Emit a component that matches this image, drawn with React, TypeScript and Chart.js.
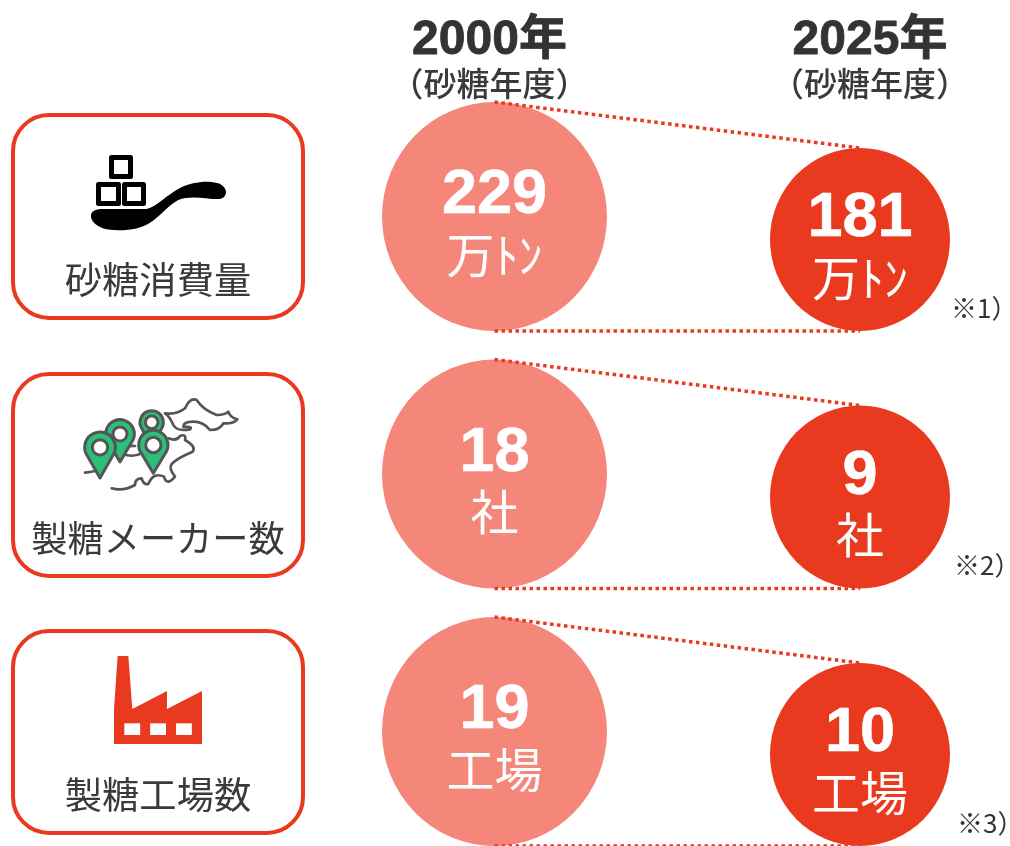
import React, { useEffect, useRef } from "react";
import { Chart, registerables } from "chart.js";

Chart.register(...registerables);

const years = [2000, 2025];
const yearLabels = ["2000年", "2025年"];
const yearSub = "（砂糖年度）";
const metrics = ["砂糖消費量", "製糖メーカー数", "製糖工場数"];
const values2000 = [229, 18, 19];
const values2025 = [181, 9, 10];
const units = ["万ﾄﾝ", "社", "工場"];
const notes = ["※1）", "※2）", "※3）"];

const RED = "#E93A20";
const PINK = "#F4877A";
const INK = "#333333";
const LATIN = '"Liberation Sans", "Noto Sans CJK JP", sans-serif';
const CJK = '"Noto Sans CJK JP", sans-serif';

const W = 1010;
const H = 846;
const R_OLD = 114.5;
const R_NEW = 91.5;
const RX_OLD = 112.5;
const RX_NEW = 90;
const ROW_PX = 257.5;
const ROW0_PX = 216.5;
const X2000_PX = 494.5;
const PX_PER_YEAR = (860 - 494.5) / 25;
// Chart.js insets the chart area by the largest bubble radius.
const INSET = R_OLD;
const HEADER_SHIFT = [-5, 10];

const rowOff = (px: number) => px / ROW_PX;
const rows = metrics.map((_, i) => i);
const newCenter = (i: number) => i + rowOff(R_OLD - R_NEW);

const BOXES = [
  { top: 115, bottom: 318 },
  { top: 374, bottom: 576 },
  { top: 631, bottom: 833 },
];

const SPOON =
  "M273 345 C275 332 290 327 310 327 L440 327 C470 320 500 285 540 264 C575 246 625 240 655 250 C685 262 685 292 660 297 C630 300 575 283 535 300 C505 315 480 350 450 368 C420 388 370 395 320 388 C295 382 270 365 273 345 Z";
const FACTORY =
  "M353 108 L385 108 L397 267 L501 213 L501 267 L606 213 L606 372 L342 372 L342 267 Z";
const FACTORY_WINDOWS = [373, 450.5, 528];
const MAP_LINES = [
  "M495 160 Q530 165 555 145 Q570 112 590 120 Q610 150 650 165 Q675 165 685 155 Q690 172 712 178 Q700 192 670 190 Q660 210 630 210 Q610 185 580 185 Q550 185 550 200 Q580 200 570 208 Q530 215 520 195 Q510 170 495 160",
  "M505 235 Q530 245 540 228 Q560 220 555 240 Q590 260 578 275 Q530 295 515 312 Q505 325 525 350 Q500 380 492 350 Q460 335 445 372 Q430 375 425 355 Q405 355 405 375 Q370 395 335 385",
  "M378 285 Q405 292 428 278",
  "M375 268 Q385 255 405 258",
  "M255 338 Q270 336 285 333",
];
const PINS = [
  { x: 455, y: 187, r: 35, hole: 19, tip: 260 },
  { x: 360, y: 222, r: 43, hole: 21, tip: 306 },
  { x: 300, y: 262, r: 46, hole: 23, tip: 354 },
  { x: 460, y: 255, r: 44, hole: 23, tip: 340 },
];

function text(
  ctx: CanvasRenderingContext2D,
  s: string,
  x: number,
  y: number,
  font: string,
  color: string,
  align: CanvasTextAlign = "center",
  heavy = 0
) {
  ctx.font = font;
  ctx.fillStyle = color;
  ctx.textAlign = align;
  ctx.textBaseline = "alphabetic";
  if (heavy > 0) {
    ctx.strokeStyle = color;
    ctx.lineWidth = heavy;
    ctx.lineJoin = "round";
    ctx.strokeText(s, x, y);
  }
  ctx.fillText(s, x, y);
}

function drawSpoon(ctx: CanvasRenderingContext2D) {
  ctx.save();
  ctx.translate(0, 100);
  ctx.scale(1 / 3, 1 / 3);
  ctx.fillStyle = "#000";
  ctx.fill(new Path2D(SPOON));
  ctx.strokeStyle = "#000";
  ctx.lineJoin = "round";
  ctx.lineWidth = 15;
  ctx.strokeRect(334.5, 172.5, 57, 57);
  ctx.strokeRect(295.5, 253.5, 60, 57);
  ctx.strokeRect(373.5, 253.5, 57, 57);
  ctx.restore();
}

function drawMap(ctx: CanvasRenderingContext2D) {
  ctx.save();
  ctx.translate(0, 360);
  ctx.scale(1 / 3, 1 / 3);
  ctx.strokeStyle = "#555555";
  ctx.lineWidth = 8;
  ctx.lineJoin = "round";
  ctx.lineCap = "round";
  MAP_LINES.forEach((d) => ctx.stroke(new Path2D(d)));
  PINS.forEach((p) => {
    ctx.beginPath();
    ctx.arc(p.x, p.y, p.r, Math.PI / 2 + 1.15, Math.PI / 2 - 1.15);
    ctx.lineTo(p.x, p.tip);
    ctx.closePath();
    ctx.fillStyle = "#2BBF7A";
    ctx.fill();
    ctx.lineWidth = 9;
    ctx.strokeStyle = "#555555";
    ctx.stroke();
    ctx.beginPath();
    ctx.arc(p.x, p.y, p.hole, 0, Math.PI * 2);
    ctx.fillStyle = "#fff";
    ctx.fill();
    ctx.stroke();
  });
  ctx.restore();
}

function drawFactory(ctx: CanvasRenderingContext2D) {
  ctx.save();
  ctx.translate(0, 620);
  ctx.scale(1 / 3, 1 / 3);
  ctx.fillStyle = RED;
  ctx.fill(new Path2D(FACTORY));
  ctx.fillStyle = "#fff";
  FACTORY_WINDOWS.forEach((x) => ctx.fillRect(x, 310, 47.5, 35));
  ctx.restore();
}

const overlay = {
  id: "overlay",
  beforeDatasetsDraw(chart: any) {
    const ctx: CanvasRenderingContext2D = chart.ctx;
    ctx.save();
    BOXES.forEach((b) => {
      ctx.beginPath();
      ctx.roundRect(13, b.top, 290, b.bottom - b.top, 36);
      ctx.lineWidth = 4;
      ctx.strokeStyle = RED;
      ctx.stroke();
    });
    ctx.restore();
  },
  // The reference circles are very slightly squashed: narrow each column about its year.
  beforeDatasetDraw(chart: any, args: any) {
    if (args.index > 1) return;
    const ctx: CanvasRenderingContext2D = chart.ctx;
    const cx = chart.scales.x.getPixelForValue(years[args.index]);
    const k = args.index === 0 ? RX_OLD / R_OLD : RX_NEW / R_NEW;
    ctx.save();
    ctx.translate(cx, 0);
    ctx.scale(k, 1);
    ctx.translate(-cx, 0);
  },
  afterDatasetDraw(chart: any, args: any) {
    if (args.index > 1) return;
    chart.ctx.restore();
  },
  afterDatasetsDraw(chart: any) {
    const ctx: CanvasRenderingContext2D = chart.ctx;
    const sx = chart.scales.x;
    const sy = chart.scales.y;
    ctx.save();
    drawSpoon(ctx);
    drawMap(ctx);
    drawFactory(ctx);

    const labelBase = [294, 552, 809];
    const labelSize = [37.3, 36.2, 37.3];
    metrics.forEach((m, i) =>
      text(ctx, m, 158, labelBase[i], `${labelSize[i]}px ${CJK}`, "#3a3a3a")
    );

    years.forEach((y, i) => {
      const x = sx.getPixelForValue(y) + HEADER_SHIFT[i];
      text(ctx, yearLabels[i], x, 54, `bold 48px ${LATIN}`, INK, "center", 0.8);
      text(ctx, yearSub, x, 96, `500 33px ${CJK}`, "#3a3a3a");
    });

    rows.forEach((i) => {
      const x0 = sx.getPixelForValue(years[0]);
      const x1 = sx.getPixelForValue(years[1]);
      const c0 = sy.getPixelForValue(i);
      const c1 = sy.getPixelForValue(newCenter(i));
      text(ctx, String(values2000[i]), x0, c0 - 3.5, `bold 63px ${LATIN}`, "#fff", "center", 0.6);
      text(ctx, units[i], x0, c0 + 56, `48px ${CJK}`, "#fff");
      text(ctx, String(values2025[i]), x1, c1 - 3.5, `bold 63px ${LATIN}`, "#fff", "center", 0.6);
      text(ctx, units[i], x1, c1 + 56, `48px ${CJK}`, "#fff");
      text(ctx, notes[i], 951 + i * 3, c1 + 78, `26px ${CJK}`, INK, "left");
    });
    ctx.restore();
  },
};

export default function App() {
  const ref = useRef<HTMLCanvasElement>(null);
  useEffect(() => {
    document.body.style.margin = "0";
    document.body.style.overflow = "hidden";
    const connector = (i: number, sign: number) => ({
      type: "line" as const,
      order: 0,
      clip: false,
      data: [
        { x: years[0], y: i + sign * rowOff(R_OLD) },
        { x: years[1], y: newCenter(i) + sign * rowOff(R_NEW) },
      ],
      borderColor: RED,
      borderWidth: 3.5,
      borderDash: [3.5, 3.5],
      pointRadius: 0,
      fill: false,
      tension: 0,
    });
    const chart = new Chart(ref.current!, {
      type: "bubble",
      data: {
        datasets: [
          {
            label: "2000年",
            order: 2,
            clip: false,
            data: rows.map((i) => ({ x: years[0], y: i, r: R_OLD, v: values2000[i] })),
            backgroundColor: PINK,
            borderWidth: 0,
          },
          {
            label: "2025年",
            order: 1,
            clip: false,
            data: rows.map((i) => ({ x: years[1], y: newCenter(i), r: R_NEW, v: values2025[i] })),
            backgroundColor: RED,
            borderWidth: 0,
          },
          ...rows.flatMap((i) => [connector(i, -1), connector(i, 1)]),
        ] as any,
      },
      options: {
        responsive: false,
        animation: false,
        events: [],
        layout: { padding: 0 },
        plugins: { legend: { display: false }, tooltip: { enabled: false } },
        scales: {
          x: {
            type: "linear",
            display: false,
            min: years[0] - (X2000_PX - INSET) / PX_PER_YEAR,
            max: years[0] + (W - INSET - X2000_PX) / PX_PER_YEAR,
          },
          y: {
            type: "linear",
            display: false,
            reverse: true,
            min: -(ROW0_PX - INSET) / ROW_PX,
            max: (H - INSET - ROW0_PX) / ROW_PX,
          },
        },
      },
      plugins: [overlay],
    });
    return () => chart.destroy();
  }, []);
  return <canvas ref={ref} width={W} height={H} style={{ display: "block" }} />;
}
